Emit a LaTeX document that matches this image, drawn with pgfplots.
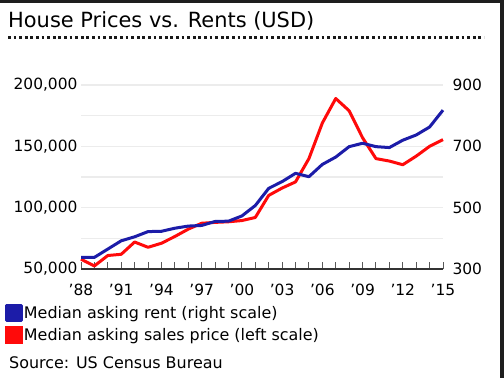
\documentclass[border=0pt]{standalone}
\usepackage{fontspec}
\setmainfont{DejaVu Sans}
\usepackage{pgfplots}
\usepackage{pgfplotstable}
\pgfplotsset{compat=1.18}
\definecolor{rentblue}{HTML}{1C1CA8}
\definecolor{pricered}{HTML}{FF0A0A}
\definecolor{gridgray}{HTML}{ECECEC}
\definecolor{framedark}{HTML}{1E1E1E}

\pgfplotstableread{
year price
1988 58000
1989 52500
1990 61000
1991 62000
1992 72000
1993 67700
1994 71000
1995 76500
1996 82500
1997 87300
1998 88000
1999 88500
2000 89500
2001 92000
2002 110000
2003 116000
2004 121000
2005 140000
2006 169000
2007 189000
2008 179000
2009 157000
2010 140000
2011 138000
2012 135000
2013 142000
2014 150000
2015 155500
}\pricetable

\pgfplotstableread{
year rent
1988 338
1989 338
1990 365
1991 392
1992 405
1993 422
1994 423
1995 433
1996 440
1997 442
1998 455
1999 456
2000 473
2001 507
2002 563
2003 585
2004 612
2005 601
2006 641
2007 665
2008 699
2009 710
2010 699
2011 696
2012 720
2013 737
2014 763
2015 818
}\renttable

\begin{document}
\begin{tikzpicture}
\path[use as bounding box] (0bp,0bp) rectangle (504bp,-378bp);
\fill[white] (0bp,0bp) rectangle (504bp,-378bp);
\fill[framedark] (0bp,0bp) rectangle (504bp,-3bp);
\fill[framedark] (500bp,0bp) rectangle (504bp,-378bp);
\node[anchor=base west, inner sep=0pt, font=\fontsize{21}{24}\selectfont] at (8bp,-27bp) {House Prices vs. Rents (USD)};
\draw[line width=2.8bp, dash pattern=on 2.8bp off 2.8bp, black!90] (8bp,-37.5bp) -- (484bp,-37.5bp);

\begin{axis}[
  at={(81bp,-269bp)}, anchor=south west,
  scale only axis, width=362bp, height=184bp,
  xmin=1988, xmax=2015, ymin=50000, ymax=200000,
  scaled y ticks=false,
  axis x line*=bottom, axis y line*=left,
  y axis line style={draw=none},
  x axis line style={line width=2bp, black!80},
  xtick={1988,1991,...,2015},
  xticklabels={'88,'91,'94,'97,'00,'03,'06,'09,'12,'15},
  minor xtick={1988,...,2015},
  tick align=inside,
  major tick length=7bp, minor tick length=7bp,
  x tick style={black!65, line width=0.9bp},
  ytick={50000,100000,150000,200000},
  yticklabels={{50,000},{100,000},{150,000},{200,000}},
  minor ytick={75000,125000,175000},
  ymajorgrids, yminorgrids,
  major grid style={gridgray, line width=1.5bp},
  minor grid style={gridgray, line width=1.5bp},
  y tick style={draw=none},
  ticklabel style={font=\fontsize{15.5}{18}\selectfont},
  xticklabel style={yshift=-12bp},
  clip=false,
]
\addplot[pricered, line width=3bp, line join=round] table[x=year, y=price] {\pricetable};
\end{axis}

\begin{axis}[
  at={(81bp,-269bp)}, anchor=south west,
  scale only axis, width=362bp, height=184bp,
  xmin=1988, xmax=2015, ymin=300, ymax=900,
  scaled y ticks=false,
  axis x line=none, axis y line*=right,
  y axis line style={draw=none},
  ytick={300,500,700,900},
  yticklabels={300,500,700,900},
  y tick style={draw=none},
  ticklabel style={font=\fontsize{15.5}{18}\selectfont},
  yticklabel style={xshift=6bp},
  clip=false,
  legend style={at={(axis description cs:-0.21,-0.19)}, anchor=north west,
    draw=none, fill=none, inner sep=0pt, outer sep=0pt,
    font=\fontsize{16}{19}\selectfont, row sep=4bp,
    nodes={inner sep=1bp}},
  legend cell align=left,
  legend image code/.code={\fill[#1] (0bp,-7.5bp) rectangle (15bp,7.5bp);},
]
\addplot[rentblue, line width=3bp, line join=round] table[x=year, y=rent] {\renttable};
\addlegendentry{Median asking rent (right scale)}
\addlegendimage{pricered, line width=3bp}
\addlegendentry{Median asking sales price (left scale)}
\end{axis}

\node[anchor=west, inner sep=0pt, font=\fontsize{16}{19}\selectfont] at (9bp,-363bp) {Source: US Census Bureau};
\end{tikzpicture}
\end{document}
